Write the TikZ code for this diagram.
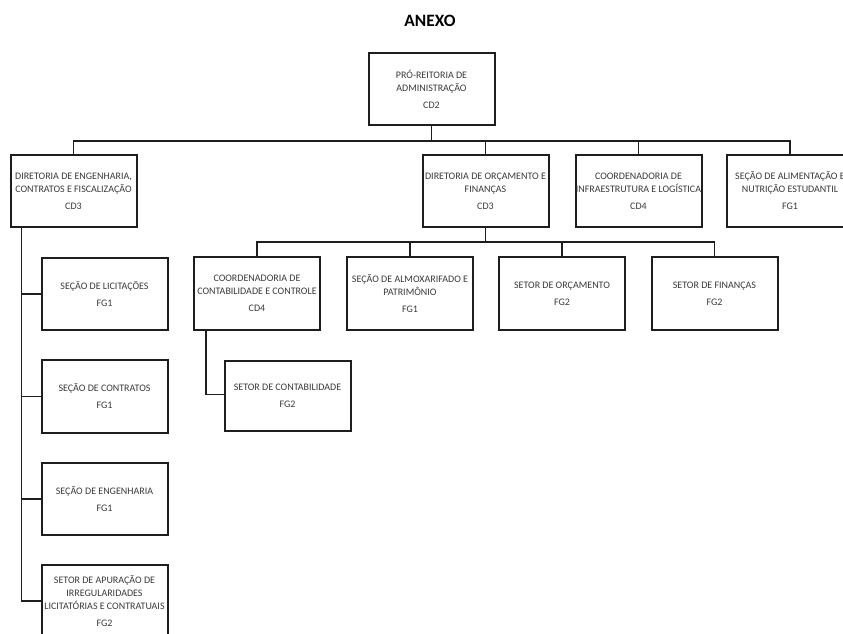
\documentclass[tikz,border=0pt]{standalone}
\usepackage{fontspec}
\setmainfont{Carlito}
\usetikzlibrary{calc}
\definecolor{inkline}{HTML}{1E1E1E}
\definecolor{inktext}{HTML}{3A3A3A}
% a centred line that may run past the box edge without widening it
\newcommand\orgline[1]{\makebox[0pt]{#1}}
\begin{document}
\begin{tikzpicture}[x=0.75pt,y=-0.75pt,
  unit/.style={draw=inkline, line width=1.5pt, fill=white,
    minimum width=94.5pt, minimum height=54pt, inner sep=0pt,
    align=center, text=inktext, font=\fontsize{7.5}{9.75}\selectfont},
  link/.style={draw=inkline, line width=1.4pt}]
\useasboundingbox (0,0) rectangle (843,633);
\clip (0,0) rectangle (843,633);

\node[font=\bfseries\fontsize{13}{15}\selectfont, text=black] (title) at (430,21) {ANEXO};

% top level
\node[unit] (pra) at (431.5,89) {\orgline{PRÓ-REITORIA DE}\\\orgline{ADMINISTRAÇÃO}\\[3pt]\orgline{CD2}};

% directorates
\node[unit] (deng) at (73.5,191) {\orgline{DIRETORIA DE ENGENHARIA,}\\\orgline{CONTRATOS E FISCALIZAÇÃO}\\[3pt]\orgline{CD3}};
\node[unit] (dorc) at (485.5,191) {\orgline{DIRETORIA DE ORÇAMENTO E}\\\orgline{FINANÇAS}\\[3pt]\orgline{CD3}};
\node[unit] (infra) at (638.5,191) {\orgline{COORDENADORIA DE}\\\orgline{INFRAESTRUTURA E LOGÍSTICA}\\[3pt]\orgline{CD4}};
\node[unit] (alim) at (790,191) {\orgline{SEÇÃO DE ALIMENTAÇÃO E}\\\orgline{NUTRIÇÃO ESTUDANTIL}\\[3pt]\orgline{FG1}};

% budget and finance units
\node[unit, minimum height=54.75pt] (ccont) at (257,293.5) {\orgline{COORDENADORIA DE}\\\orgline{CONTABILIDADE E CONTROLE}\\[3pt]\orgline{CD4}};
\node[unit, minimum height=54.75pt] (almox) at (410,293.5) {\orgline{SEÇÃO DE ALMOXARIFADO E}\\\orgline{PATRIMÔNIO}\\[3pt]\orgline{FG1}};
\node[unit, minimum height=54.75pt] (sorc) at (562,293.5) {\orgline{SETOR DE ORÇAMENTO}\\[3pt]\orgline{FG2}};
\node[unit, minimum height=54.75pt] (sfin) at (714.5,293.5) {\orgline{SETOR DE FINANÇAS}\\[3pt]\orgline{FG2}};
\node[unit, minimum height=52.5pt] (scont) at (287.5,396) {\orgline{SETOR DE CONTABILIDADE}\\[3pt]\orgline{FG2}};

% engineering units
\node[unit] (licit) at (104.5,294) {\orgline{SEÇÃO DE LICITAÇÕES}\\[3pt]\orgline{FG1}};
\node[unit, minimum height=54.75pt] (contr) at (104.5,396.5) {\orgline{SEÇÃO DE CONTRATOS}\\[3pt]\orgline{FG1}};
\node[unit] (eng) at (104.5,499) {\orgline{SEÇÃO DE ENGENHARIA}\\[3pt]\orgline{FG1}};
\node[unit] (apur) at (104.5,601) {\orgline{SETOR DE APURAÇÃO DE}\\\orgline{IRREGULARIDADES}\\\orgline{LICITATÓRIAS E CONTRATUAIS}\\[3pt]\orgline{FG2}};

% connectors
\coordinate (bus1) at (0,141);
\coordinate (bus2) at (0,242);
\draw[link] (pra.south) -- (pra.south |- bus1);
\draw[link] (deng.north) |- (alim.north |- bus1) -- (alim.north);
\draw[link] (dorc.north) -- (dorc.north |- bus1);
\draw[link] (infra.north) -- (infra.north |- bus1);

\draw[link] (dorc.south) -- (dorc.south |- bus2);
\draw[link] (ccont.north) |- (sfin.north |- bus2) -- (sfin.north);
\draw[link] (almox.north) -- (almox.north |- bus2);
\draw[link] (sorc.north) -- (sorc.north |- bus2);

\coordinate (engspine) at ($(deng.south west)+(12,0)$);
\draw[link] (engspine) |- (apur.west);
\draw[link] (engspine |- licit.west) -- (licit.west);
\draw[link] (engspine |- contr.west) -- (contr.west);
\draw[link] (engspine |- eng.west) -- (eng.west);

\coordinate (contspine) at ($(ccont.south west)+(13,0)$);
\draw[link] (contspine) |- ($(scont.west)+(0,-1.5)$);
\end{tikzpicture}
\end{document}
